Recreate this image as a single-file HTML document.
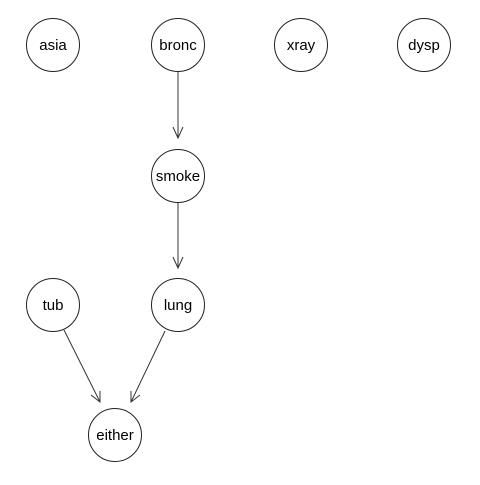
<!DOCTYPE html>
<html><head><style>body{margin:0;background:#fff}</style></head><body>
<svg width="480" height="480" viewBox="0 0 480 480" xmlns="http://www.w3.org/2000/svg" font-family="Liberation Sans, Arial, sans-serif" font-size="15">
<g fill="#fff" stroke="#222" stroke-width="1">
<circle cx="53" cy="45" r="26.5"/>
<circle cx="178" cy="45" r="26.5"/>
<circle cx="301" cy="45" r="26.5"/>
<circle cx="424" cy="45" r="26.5"/>
<circle cx="178" cy="176" r="26.5"/>
<circle cx="53" cy="305" r="26.5"/>
<circle cx="178" cy="305" r="26.5"/>
<circle cx="115" cy="435" r="26.5"/>
</g>
<g stroke="#333" stroke-width="1" fill="none">
<line x1="178" y1="72" x2="178" y2="138"/><polyline points="173,127 178,138 183,127"/>
<line x1="178" y1="203" x2="178" y2="268"/><polyline points="173,257 178,268 183,257"/>
<line x1="64" y1="330" x2="100" y2="402"/><polyline points="91,395 100,402 100,391"/>
<line x1="165" y1="331" x2="131" y2="402"/><polyline points="131,391 131,402 140,395"/>
</g>
<g text-anchor="middle" fill="#000">
<text x="53" y="50">asia</text>
<text x="178" y="50">bronc</text>
<text x="301" y="50">xray</text>
<text x="424" y="50">dysp</text>
<text x="178" y="181">smoke</text>
<text x="53" y="310">tub</text>
<text x="178" y="310">lung</text>
<text x="115" y="440">either</text>
</g>
</svg>
</body></html>
